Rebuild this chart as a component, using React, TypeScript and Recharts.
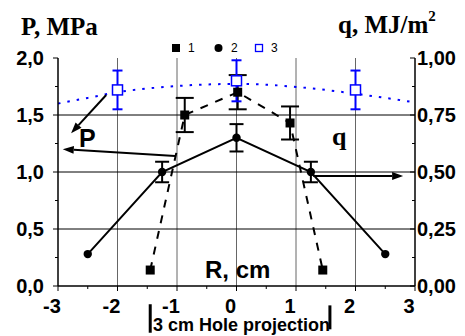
import React from 'react';
import { ComposedChart, XAxis, YAxis, Scatter, Line, ErrorBar, ReferenceLine } from 'recharts';

// series 1: filled squares, dashed line (P axis)
const s1R = [-1.45, -0.87, 0.02, 0.9, 1.45];
const s1P = [0.14, 1.5, 1.7, 1.43, 0.14];
const s1Err = [0, 0.15, 0.15, 0.145, 0];

// series 2: circles, solid line (P axis)
const s2R = [-2.5, -1.25, 0, 1.25, 2.5];
const s2P = [0.28, 1.0, 1.3, 1.0, 0.28];
const s2Err = [0, 0.09, 0.12, 0.09, 0];

// series 3: open blue squares (q axis)
const s3R = [-2, 0, 2];
const s3Q = [0.86, 0.9, 0.86];
const s3Err = [0.085, 0.09, 0.085];

// dotted blue q curve
const curveR = [-3, -2.5, -2, -1.5, -1, -0.5, 0, 0.5, 1, 1.5, 2, 2.5, 3];
const curveQ = [0.8, 0.825, 0.85, 0.866, 0.877, 0.884, 0.886, 0.883, 0.873, 0.86, 0.843, 0.825, 0.805];

const xTicks = [-3, -2.5, -2, -1.5, -1, -0.5, 0, 0.5, 1, 1.5, 2, 2.5, 3];
const pTicks = [0, 0.25, 0.5, 0.75, 1, 1.25, 1.5, 1.75, 2];
const qTicks = [0, 0.125, 0.25, 0.375, 0.5, 0.625, 0.75, 0.875, 1];
const xGrid = [-2, -1, 0, 1, 2];
const pGrid = [0.5, 1, 1.5];

const s1 = s1R.map((x, i) => ({ x, y: s1P[i], err: s1Err[i] }));
const s2 = s2R.map((x, i) => ({ x, y: s2P[i], err: s2Err[i] }));
const s3 = s3R.map((x, i) => ({ x, y: s3Q[i], err: s3Err[i] }));
const curve = curveR.map((x, i) => ({ x, y: curveQ[i] }));

const sans = 'Liberation Sans, Arial, sans-serif';
const serif = 'Liberation Serif, Times New Roman, serif';

const BottomTick = ({ x, y, payload }: any) => {
  const major = Number.isInteger(payload.value);
  return (
    <g>
      <line x1={x} x2={x} y1={y} y2={y + (major ? 5 : 3)} stroke="#000" />
      {major && (
        <text x={x - 6} y={y + 27} textAnchor="middle" fontFamily={sans} fontWeight="bold" fontSize={20} fill="#000">
          {String(payload.value)}
        </text>
      )}
    </g>
  );
};

const TopTick = ({ x, y, payload }: any) => {
  const major = Number.isInteger(payload.value);
  return <line x1={x} x2={x} y1={y} y2={y + (major ? 5 : 3)} stroke="#000" />;
};

const LeftTick = ({ x, y, payload }: any) => {
  const major = Number.isInteger(payload.value * 2);
  return (
    <g>
      <line x1={x - (major ? 5 : 3)} x2={x} y1={y} y2={y} stroke="#000" />
      {major && (
        <text x={x - 14} y={y + 7} textAnchor="end" fontFamily={sans} fontWeight="bold" fontSize={20} fill="#000">
          {payload.value.toFixed(1).replace('.', ',')}
        </text>
      )}
    </g>
  );
};

const RightTick = ({ x, y, payload }: any) => {
  const major = Number.isInteger(payload.value * 4);
  return (
    <g>
      <line x1={x - (major ? 5 : 3)} x2={x} y1={y} y2={y} stroke="#000" />
      {major && (
        <text x={x + 2} y={y + 7} textAnchor="start" fontFamily={sans} fontWeight="bold" fontSize={20} fill="#000">
          {payload.value.toFixed(2).replace('.', ',')}
        </text>
      )}
    </g>
  );
};

const Arrow = (props: any) => {
  const { x1, y1, x2, y2 } = props;
  const dx = x2 - x1;
  const dy = y2 - y1;
  const len = Math.sqrt(dx * dx + dy * dy) || 1;
  const ux = dx / len;
  const uy = dy / len;
  const bx = x2 - ux * 11;
  const by = y2 - uy * 11;
  return (
    <g>
      <line x1={x1} y1={y1} x2={bx} y2={by} stroke="#000" strokeWidth={2} />
      <polygon points={`${x2},${y2} ${bx - uy * 4},${by + ux * 4} ${bx + uy * 4},${by - ux * 4}`} fill="#000" />
    </g>
  );
};

const Square = ({ cx, cy }: any) => <rect x={cx - 4.5} y={cy - 4.5} width={9} height={9} fill="#000" />;
const Dot = ({ cx, cy }: any) => <circle cx={cx} cy={cy} r={4.2} fill="#000" />;
const OpenSquare = ({ cx, cy }: any) => (
  <rect x={cx - 5} y={cy - 5} width={10} height={10} fill="#fff" stroke="#0000ff" strokeWidth={1.5} />
);

export default function App() {
  return (
    <div style={{ position: 'absolute', left: 0, top: 0, width: 465, height: 336, background: '#fff' }}>
      <ComposedChart width={465} height={336} margin={{ top: 58, right: 0, bottom: 0, left: 0 }}>
        <XAxis
          dataKey="x"
          type="number"
          domain={[-3, 3]}
          ticks={xTicks}
          interval={0}
          height={50}
          tickSize={0}
          tickMargin={0}
          tick={<BottomTick />}
          axisLine={{ stroke: '#000', strokeWidth: 1.5 }}
          allowDataOverflow
        />
        <XAxis
          xAxisId="top"
          orientation="top"
          type="number"
          domain={[-3, 3]}
          ticks={xTicks}
          interval={0}
          height={0}
          tickSize={0}
          tickMargin={0}
          tick={<TopTick />}
          axisLine={{ stroke: '#000', strokeWidth: 1.5 }}
        />
        <YAxis
          yAxisId="P"
          dataKey="y"
          type="number"
          domain={[0, 2]}
          ticks={pTicks}
          interval={0}
          width={58}
          tickSize={0}
          tickMargin={0}
          tick={<LeftTick />}
          axisLine={{ stroke: '#000', strokeWidth: 1.5 }}
        />
        <YAxis
          yAxisId="q"
          orientation="right"
          dataKey="y"
          type="number"
          domain={[0, 1]}
          ticks={qTicks}
          interval={0}
          width={50}
          tickSize={0}
          tickMargin={0}
          tick={<RightTick />}
          axisLine={{ stroke: '#000', strokeWidth: 1.5 }}
        />

        {xGrid.map((v) => (
          <ReferenceLine key={'gx' + v} x={v} yAxisId="P" stroke="#666" strokeWidth={1} />
        ))}
        {pGrid.map((v) => (
          <ReferenceLine key={'gy' + v} y={v} yAxisId="P" stroke="#000" strokeWidth={1} />
        ))}

        <Line
          data={curve}
          yAxisId="q"
          dataKey="y"
          type="monotone"
          stroke="#0000ff"
          strokeWidth={2}
          strokeDasharray="2.5 7"
          strokeLinecap="butt"
          dot={false}
          isAnimationActive={false}
        />

        <Scatter
          data={s1}
          yAxisId="P"
          dataKey="y"
          shape={<Square />}
          line={{ stroke: '#000', strokeWidth: 2, strokeDasharray: '8 8' }}
          isAnimationActive={false}
        >
          <ErrorBar dataKey="err" direction="y" width={9} stroke="#000" strokeWidth={2} />
        </Scatter>

        <Scatter
          data={s2}
          yAxisId="P"
          dataKey="y"
          shape={<Dot />}
          line={{ stroke: '#000', strokeWidth: 2 }}
          isAnimationActive={false}
        >
          <ErrorBar dataKey="err" direction="y" width={7} stroke="#000" strokeWidth={2} />
        </Scatter>

        <Scatter data={s3} yAxisId="q" dataKey="y" shape={<OpenSquare />} isAnimationActive={false}>
          <ErrorBar dataKey="err" direction="y" width={5} stroke="#0000ff" strokeWidth={2} />
        </Scatter>

        {/* annotation arrows */}
        <ReferenceLine yAxisId="P" segment={[{ x: -2.19, y: 1.675 }, { x: -2.78, y: 1.34 }]} shape={<Arrow />} />
        <ReferenceLine yAxisId="P" segment={[{ x: -1.03, y: 1.14 }, { x: -2.92, y: 1.2 }]} shape={<Arrow />} />
        <ReferenceLine yAxisId="P" segment={[{ x: 1.29, y: 0.965 }, { x: 2.8, y: 0.965 }]} shape={<Arrow />} />

        {/* hole projection marks */}
        <ReferenceLine yAxisId="P" ifOverflow="visible" segment={[{ x: -1.45, y: -0.16 }, { x: -1.45, y: -0.41 }]} stroke="#000" strokeWidth={3} />
        <ReferenceLine yAxisId="P" ifOverflow="visible" segment={[{ x: 1.57, y: -0.17 }, { x: 1.57, y: -0.38 }]} stroke="#000" strokeWidth={3} />
      </ComposedChart>

      <svg width={465} height={336} style={{ position: 'absolute', left: 0, top: 0, pointerEvents: 'none' }}>
        <text x={21} y={35} fontFamily={serif} fontWeight="bold" fontSize={25} fill="#000">P, MPa</text>
        <text x={338} y={33} fontFamily={serif} fontWeight="bold" fontSize={25} fill="#000">
          q, MJ/m<tspan fontSize={15} dy={-12}>2</tspan>
        </text>

        <rect x={172} y={44} width={8} height={8} fill="#000" />
        <text x={188} y={52} fontFamily={sans} fontSize={12} fill="#000">1</text>
        <circle cx={218.5} cy={48} r={4} fill="#000" />
        <text x={231} y={52} fontFamily={sans} fontSize={12} fill="#000">2</text>
        <rect x={255.5} y={44.5} width={7} height={7} fill="#fff" stroke="#0000ff" strokeWidth={1.3} />
        <text x={271} y={52} fontFamily={sans} fontSize={12} fill="#000">3</text>

        <text x={79} y={147} fontFamily={sans} fontWeight="bold" fontSize={25} fill="#000">P</text>
        <text x={332} y={145} fontFamily={serif} fontWeight="bold" fontSize={26} fill="#000">q</text>
        <text x={205} y={278} fontFamily={sans} fontWeight="bold" fontSize={24} fill="#000">R, cm</text>
        <text x={153} y={331} fontFamily={sans} fontWeight="bold" fontSize={18} fill="#000">3 cm Hole projection</text>
      </svg>
    </div>
  );
}
